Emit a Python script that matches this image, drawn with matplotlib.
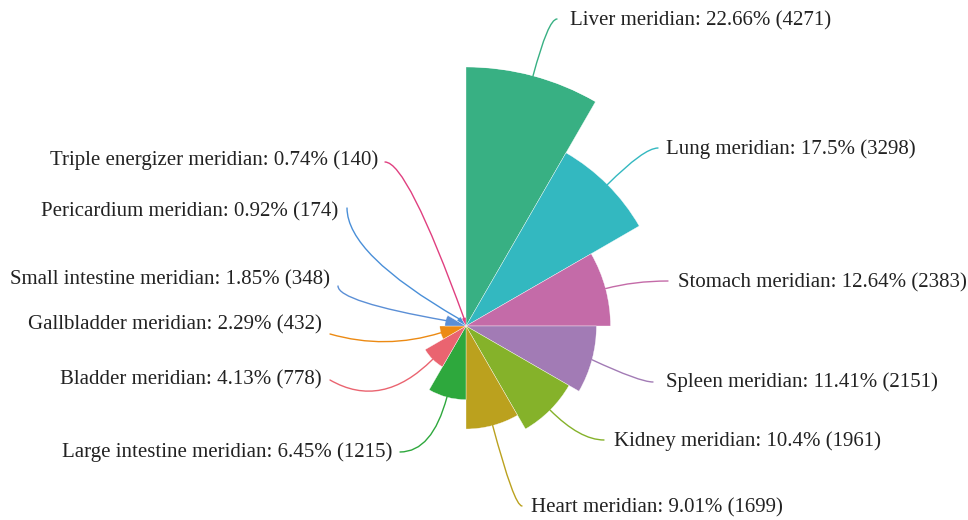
import numpy as np
import matplotlib
matplotlib.use("Agg")
import matplotlib.pyplot as plt

categories = ["Liver meridian", "Lung meridian", "Stomach meridian", "Spleen meridian",
              "Kidney meridian", "Heart meridian", "Large intestine meridian",
              "Bladder meridian", "Gallbladder meridian", "Small intestine meridian",
              "Pericardium meridian", "Triple energizer meridian"]
values = [4271, 3298, 2383, 2151, 1961, 1699, 1215, 778, 432, 348, 174, 140]
percents = ["22.66%", "17.5%", "12.64%", "11.41%", "10.4%", "9.01%", "6.45%",
            "4.13%", "2.29%", "1.85%", "0.92%", "0.74%"]
colors = ["#38b083", "#33b8c0", "#c46ba8", "#a27bb5", "#85b22a", "#bba11e",
          "#2ea83d", "#ea6470", "#ec8a13", "#5b8fd6", "#4a8fd8", "#e04080"]

W, H = 968, 520
fig = plt.figure(figsize=(W / 100, H / 100), dpi=100)
cx, cy = 466, 326            # image px of centre
R = 259                      # px radius of max value
ax = fig.add_axes([(cx - R) / W, (H - cy - R) / H, 2 * R / W, 2 * R / H], projection="polar")
ax.set_theta_zero_location("N")
ax.set_theta_direction(-1)
n = len(values)
width = 2 * np.pi / n
theta = np.arange(n) * width + width / 2
ax.bar(theta, values, width=width, color=colors, edgecolor="white", linewidth=0.25)
ax.set_ylim(0, max(values))
ax.set_axis_off()

# label layout: (x, y image px, ha, line end x, line end y, connectionstyle)
layout = [
    (570, 19, "left", 557, 19, "angle3,angleA=0,angleB=75"),
    (666, 148, "left", 658, 148, "angle3,angleA=0,angleB=45"),
    (678, 281, "left", 668, 281, "angle3,angleA=0,angleB=15"),
    (666, 381, "left", 653, 382, "angle3,angleA=0,angleB=-25"),
    (614, 440, "left", 604, 440, "angle3,angleA=0,angleB=-45"),
    (531, 506, "left", 522, 506, "angle3,angleA=0,angleB=-75"),
    (392, 451, "right", 400, 452, "angle3,angleA=0,angleB=-105"),
    (322, 378, "right", 330, 380, "angle3,angleA=-30,angleB=-135"),
    (322, 323, "right", 330, 334, "arc3,rad=0.15"),
    (330, 278, "right", 338, 286, "angle3,angleA=-90,angleB=170"),
    (338, 210, "right", 347, 208, "angle3,angleA=-90,angleB=150"),
    (378, 159, "right", 385, 162, "angle3,angleA=0,angleB=110"),
]

for i, (tx, ty, ha, lx, ly, cs) in enumerate(layout):
    label = f"{categories[i]}: {percents[i]} ({values[i]})"
    fig.text(tx / W, 1 - (ty + 1.5) / H, label, ha=ha, va="center", fontsize=15,
             family="Liberation Serif", color="#222222")
    ax.annotate("", xy=(theta[i], values[i]), xycoords="data",
                xytext=(lx, H - ly), textcoords="figure pixels",
                arrowprops=dict(arrowstyle="-", connectionstyle=cs, color=colors[i],
                                lw=1.0, shrinkA=0, shrinkB=0))

fig.savefig("out.png", dpi=100)
